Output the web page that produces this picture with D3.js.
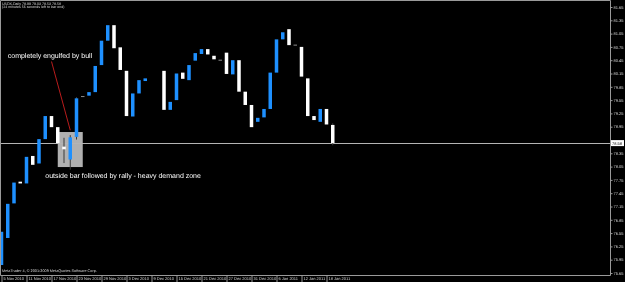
<!DOCTYPE html>
<html>
<head>
<meta charset="utf-8">
<script src="https://cdn.jsdelivr.net/npm/d3@7"></script>
<style>
  html, body { margin: 0; padding: 0; background: #000; overflow: hidden; }
  svg text { text-rendering: geometricPrecision; }
</style>
</head>
<body>
<div id="chart"></div>
<script>
const symbolName = 'USDX';
const period = 'Daily';
const timerText = '(24 minutes 56 seconds left to bar end)';
const copyright = 'MetaTrader 4, © 2001-2009 MetaQuotes Software Corp.';

// one daily bar per trading day
const dates = [
  '2010-11-05', '2010-11-08', '2010-11-09', '2010-11-10', '2010-11-11', '2010-11-12',
  '2010-11-15', '2010-11-16', '2010-11-17', '2010-11-18', '2010-11-19', '2010-11-22',
  '2010-11-23', '2010-11-24', '2010-11-25', '2010-11-26', '2010-11-29', '2010-11-30',
  '2010-12-01', '2010-12-02', '2010-12-03', '2010-12-06', '2010-12-07', '2010-12-08',
  '2010-12-09', '2010-12-10', '2010-12-13', '2010-12-14', '2010-12-15', '2010-12-16',
  '2010-12-17', '2010-12-20', '2010-12-21', '2010-12-22', '2010-12-23', '2010-12-24',
  '2010-12-27', '2010-12-28', '2010-12-29', '2010-12-30', '2010-12-31', '2011-01-03',
  '2011-01-04', '2011-01-05', '2011-01-06', '2011-01-07', '2011-01-10', '2011-01-11',
  '2011-01-12', '2011-01-13', '2011-01-14', '2011-01-17', '2011-01-18', '2011-01-19'
];

const opens = [
  75.83, 76.44, 77.22, 77.71, 77.67, 78.29, 78.12, 78.67, 79.19, 78.94,
  78.50, 78.21, 78.72, 79.63, 79.65, 79.73, 80.34, 80.89, 81.24, 80.74,
  80.21, 79.18, 79.70, 79.98, null, null, 80.21, 79.33, 79.55, 80.17,
  80.00, 80.44, 80.59, 80.70, 80.55, 80.45, 80.62, 80.13, 80.45, 79.74,
  79.44, 79.06, 79.16, 79.35, 80.17, 80.92, 81.15, 80.79, 80.75, 80.04,
  79.19, 79.06, 79.35, 78.99
];

const closes = [
  76.58, 77.21, 77.69, 77.67, 78.27, 78.09, 78.67, 79.19, 78.94, 78.58,
  78.44, 78.71, 79.59, 79.63, 79.73, 80.32, 80.89, 81.24, 80.72, 80.23,
  79.19, 79.70, 80.00, 80.04, null, null, 79.33, 79.51, 80.15, 80.03,
  80.34, 80.61, 80.70, 80.58, 80.47, 80.45, 80.14, 80.45, 79.74, 79.44,
  78.94, 79.15, 79.35, 80.17, 80.92, 81.08, 80.79, 80.79, 80.08, 79.19,
  79.10, 79.35, 79.00, 78.58
];

// wicks are black, only the ones over the grey zone can be seen
const wickDates = ['2010-11-19', '2010-11-22', '2010-11-23', '2011-01-19'];
const wickHighs = [78.70, 78.76, 79.62, 79.03];
const wickLows = [78.13, 77.98, 78.66, 78.53];

// 78.65 sits under the current price box, so it is not shown
const priceTicks = [
  81.65, 81.35, 81.05, 80.75, 80.45, 80.15, 79.85, 79.55, 79.25, 78.95,
  78.35, 78.05, 77.75, 77.45, 77.15, 76.85, 76.55, 76.25, 75.95, 75.65
];
const dateTicks = [
  '2010-11-05', '2010-11-11', '2010-11-17', '2010-11-23', '2010-11-29', '2010-12-03',
  '2010-12-09', '2010-12-15', '2010-12-21', '2010-12-27', '2010-12-31', '2011-01-06',
  '2011-01-12', '2011-01-18'
];

// drawn objects
const zoneDates = ['2010-11-18', '2010-11-24'];
const zonePrices = [78.83, 78.04];
const arrowDates = ['2010-11-17', '2010-11-22'];
const arrowPrices = [80.42, 78.87];
const notes = [
  { text: 'completely engulfed by bull', date: '2010-11-08', price: 80.51 },
  { text: 'outside bar followed by rally - heavy demand zone', date: '2010-11-16', price: 77.80 }
];

const width = 625;
const height = 282;
const plotRight = 610;
const plotBottom = 275;
const font = "'Liberation Sans', Arial, sans-serif";
const bullColor = '#1e90ff';
const bearColor = '#ffffff';
const frameColor = '#9a9a9a';
const textColor = '#d8d8d8';

const x = d3.scalePoint()
  .domain(dates)
  .range([1.5, 1.5 + 6.25 * (dates.length - 1)]);

const y = d3.scaleLinear()
  .domain([75.65, 81.65])
  .range([273, 7]);

const svg = d3.select('#chart')
  .append('svg')
  .attr('width', width)
  .attr('height', height)
  .style('display', 'block')
  .style('background', '#000')
  .style('will-change', 'transform')
  .style('font-family', font);

svg.append('defs').append('clipPath')
  .attr('id', 'plot-clip')
  .append('rect')
  .attr('x', 1).attr('y', 1)
  .attr('width', plotRight - 1).attr('height', plotBottom - 1);

const plot = svg.append('g').attr('clip-path', 'url(#plot-clip)');

// demand zone rectangle (behind the bars)
plot.append('rect')
  .attr('x', x(zoneDates[0]))
  .attr('y', y(zonePrices[0]))
  .attr('width', x(zoneDates[1]) - x(zoneDates[0]))
  .attr('height', y(zonePrices[1]) - y(zonePrices[0]))
  .attr('fill', '#b0b0b0');

// bid line
const lastClose = closes[closes.length - 1];
plot.append('line')
  .attr('x1', 0).attr('x2', plotRight)
  .attr('y1', Math.round(y(lastClose)) + 0.5)
  .attr('y2', Math.round(y(lastClose)) + 0.5)
  .attr('stroke', '#b4b4b4')
  .attr('stroke-width', 1);

// wicks
plot.selectAll('.wick')
  .data(wickDates)
  .join('line')
  .attr('class', 'wick')
  .attr('x1', d => x(d)).attr('x2', d => x(d))
  .attr('y1', (d, i) => y(wickHighs[i]))
  .attr('y2', (d, i) => y(wickLows[i]))
  .attr('stroke', '#3a3a3a')
  .attr('stroke-width', 1);

// candle bodies
const bars = dates
  .map((d, i) => ({ date: d, open: opens[i], close: closes[i] }))
  .filter(d => d.open != null && d.close != null);

const bodyW = 3.5;

plot.selectAll('.body')
  .data(bars)
  .join('rect')
  .attr('class', 'body')
  .attr('x', d => x(d.date) - bodyW / 2)
  .attr('y', d => d.open === d.close ? y(d.open) - 0.5 : y(Math.max(d.open, d.close)))
  .attr('width', bodyW)
  .attr('height', d => d.open === d.close ? 1 : Math.max(1, y(Math.min(d.open, d.close)) - y(Math.max(d.open, d.close))))
  .attr('fill', d => d.open === d.close ? '#8a8a8a' : (d.close > d.open ? bullColor : bearColor));

// red trendline
plot.append('line')
  .attr('x1', x(arrowDates[0])).attr('y1', y(arrowPrices[0]))
  .attr('x2', x(arrowDates[1])).attr('y2', y(arrowPrices[1]))
  .attr('stroke', '#b81c1c')
  .attr('stroke-width', 1);

// annotation texts
plot.selectAll('.note')
  .data(notes)
  .join('text')
  .attr('class', 'note')
  .attr('x', d => x(d.date))
  .attr('y', d => y(d.price))
  .attr('fill', '#ffffff')
  .attr('font-size', '7px')
  .text(d => d.text);

// frame
svg.append('path')
  .attr('d', `M0.5,${plotBottom + 0.5} V0.5 H${plotRight + 0.5} V${plotBottom + 0.5} H0.5`)
  .attr('fill', 'none')
  .attr('stroke', frameColor)
  .attr('stroke-width', 1);

// price scale
svg.append('g')
  .attr('transform', `translate(${plotRight + 0.5},0)`)
  .call(d3.axisRight(y).tickValues(priceTicks).tickSize(2).tickPadding(1).tickFormat(d3.format('.2f')))
  .call(g => g.select('.domain').remove())
  .call(g => g.selectAll('.tick line').attr('stroke', frameColor))
  .call(g => g.selectAll('.tick text')
    .attr('fill', textColor)
    .attr('font-size', '4px')
    .attr('font-family', font));

// current price box
const boxY = y(lastClose);
svg.append('rect')
  .attr('x', plotRight + 1)
  .attr('y', boxY - 3)
  .attr('width', 13)
  .attr('height', 6)
  .attr('fill', '#ffffff');
svg.append('text')
  .attr('x', plotRight + 2)
  .attr('y', boxY)
  .attr('dy', '0.35em')
  .attr('fill', '#000')
  .attr('font-size', '4px')
  .text(d3.format('.2f')(lastClose));

// time scale
const parseDate = d3.timeParse('%Y-%m-%d');
const fmtDate = d3.timeFormat('%-d %b %Y');

svg.append('g')
  .attr('transform', `translate(0,${plotBottom + 0.5})`)
  .call(d3.axisBottom(x).tickValues(dateTicks).tickSize(7).tickPadding(0).tickFormat(d => fmtDate(parseDate(d))))
  .call(g => g.select('.domain').remove())
  .call(g => g.selectAll('.tick line').attr('stroke', frameColor))
  .call(g => g.selectAll('.tick text')
    .attr('text-anchor', 'start')
    .attr('x', 1.5)
    .attr('y', 4.5)
    .attr('dy', 0)
    .attr('fill', textColor)
    .attr('font-size', '4px')
    .attr('font-family', font));

// header and footer
svg.append('text')
  .attr('x', 2).attr('y', 5)
  .attr('fill', textColor)
  .attr('font-size', '3.6px')
  .text(`${symbolName},${period}  ${opens[opens.length - 1].toFixed(2)} ${wickHighs[wickHighs.length - 1].toFixed(2)} ${wickLows[wickLows.length - 1].toFixed(2)} ${lastClose.toFixed(2)}`);

svg.append('text')
  .attr('x', 2).attr('y', 8.2)
  .attr('fill', textColor)
  .attr('font-size', '3.6px')
  .text(timerText);

svg.append('text')
  .attr('x', 2).attr('y', 271.5)
  .attr('fill', textColor)
  .attr('font-size', '3.8px')
  .text(copyright);
</script>
</body>
</html>
